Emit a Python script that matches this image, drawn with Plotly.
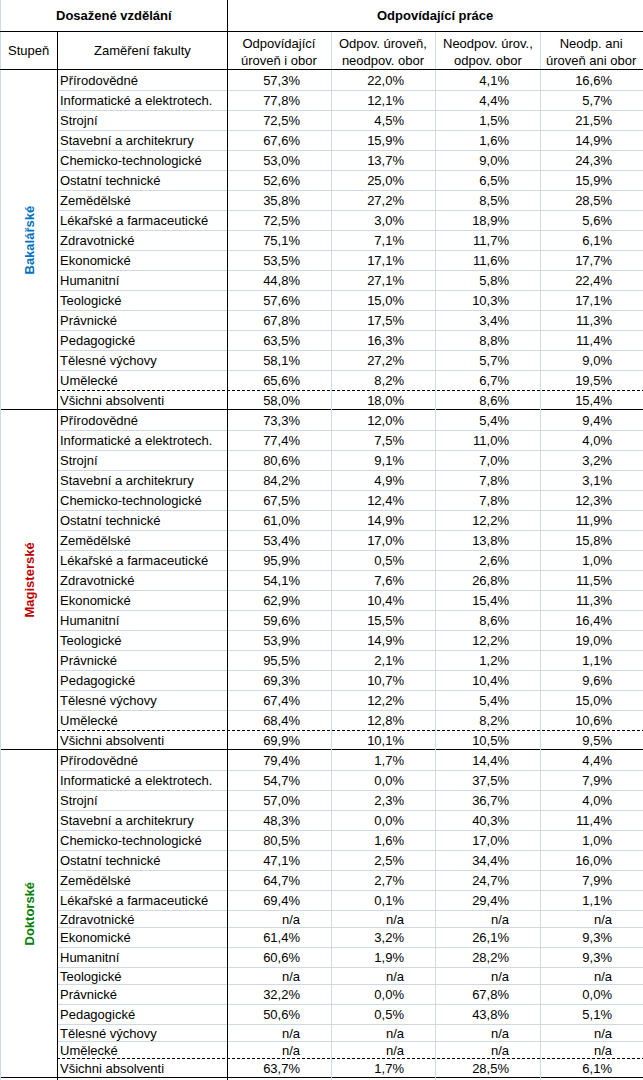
import plotly.graph_objects as go

# --- data ---------------------------------------------------------------
fields = ["Přírodovědné", "Informatické a elektrotech.", "Strojní", "Stavební a architekrury",
          "Chemicko-technologické", "Ostatní technické", "Zemědělské", "Lékařské a farmaceutické",
          "Zdravotnické", "Ekonomické", "Humanitní", "Teologické", "Právnické", "Pedagogické",
          "Tělesné výchovy", "Umělecké"]
total_label = "Všichni absolventi"
levels = ["Bakalářské", "Magisterské", "Doktorské"]
level_colors = ["#0070C0", "#C00000", "#008000"]
col_headers = ["Odpovídající<br>úroveň i obor", "Odpov. úroveň,<br>neodpov. obor",
               "Neodpov. úrov.,<br>odpov. obor", "Neodp. ani<br>úroveň ani obor"]

bak_c1 = [57.3, 77.8, 72.5, 67.6, 53.0, 52.6, 35.8, 72.5, 75.1, 53.5, 44.8, 57.6, 67.8, 63.5, 58.1, 65.6, 58.0]
bak_c2 = [22.0, 12.1, 4.5, 15.9, 13.7, 25.0, 27.2, 3.0, 7.1, 17.1, 27.1, 15.0, 17.5, 16.3, 27.2, 8.2, 18.0]
bak_c3 = [4.1, 4.4, 1.5, 1.6, 9.0, 6.5, 8.5, 18.9, 11.7, 11.6, 5.8, 10.3, 3.4, 8.8, 5.7, 6.7, 8.6]
bak_c4 = [16.6, 5.7, 21.5, 14.9, 24.3, 15.9, 28.5, 5.6, 6.1, 17.7, 22.4, 17.1, 11.3, 11.4, 9.0, 19.5, 15.4]

mag_c1 = [73.3, 77.4, 80.6, 84.2, 67.5, 61.0, 53.4, 95.9, 54.1, 62.9, 59.6, 53.9, 95.5, 69.3, 67.4, 68.4, 69.9]
mag_c2 = [12.0, 7.5, 9.1, 4.9, 12.4, 14.9, 17.0, 0.5, 7.6, 10.4, 15.5, 14.9, 2.1, 10.7, 12.2, 12.8, 10.1]
mag_c3 = [5.4, 11.0, 7.0, 7.8, 7.8, 12.2, 13.8, 2.6, 26.8, 15.4, 8.6, 12.2, 1.2, 10.4, 5.4, 8.2, 10.5]
mag_c4 = [9.4, 4.0, 3.2, 3.1, 12.3, 11.9, 15.8, 1.0, 11.5, 11.3, 16.4, 19.0, 1.1, 9.6, 15.0, 10.6, 9.5]

dok_c1 = [79.4, 54.7, 57.0, 48.3, 80.5, 47.1, 64.7, 69.4, None, 61.4, 60.6, None, 32.2, 50.6, None, None, 63.7]
dok_c2 = [1.7, 0.0, 2.3, 0.0, 1.6, 2.5, 2.7, 0.1, None, 3.2, 1.9, None, 0.0, 0.5, None, None, 1.7]
dok_c3 = [14.4, 37.5, 36.7, 40.3, 17.0, 34.4, 24.7, 29.4, None, 26.1, 28.2, None, 67.8, 43.8, None, None, 28.5]
dok_c4 = [4.4, 7.9, 4.0, 11.4, 1.0, 16.0, 7.9, 1.1, None, 9.3, 9.3, None, 0.0, 5.1, None, None, 6.1]

groups = [[bak_c1, bak_c2, bak_c3, bak_c4],
          [mag_c1, mag_c2, mag_c3, mag_c4],
          [dok_c1, dok_c2, dok_c3, dok_c4]]

# --- layout geometry ----------------------------------------------------
W, H = 643, 1080
xe = [0, 57, 227, 331, 435, 540, 643]   # column edges
H1, H2 = 31, 70                          # header row bottoms
FONT = "Liberation Sans, Arial, sans-serif"
GRID = "#D0D7E5"
DY = 2                                   # baseline nudge for cell text


def fmt(v):
    return "n/a" if v is None else f"{v:.1f}%".replace(".", ",")


fig = go.Figure()
shapes = []
annotations = []


def hline(y, x0, x1, color="black", dash="solid"):
    shapes.append(dict(type="line", xref="x", yref="y", x0=x0, x1=x1, y0=y, y1=y,
                       line=dict(color=color, width=1, dash=dash)))


def vline(x, y0, y1, color="black"):
    shapes.append(dict(type="line", xref="x", yref="y", x0=x, x1=x, y0=y0, y1=y1,
                       line=dict(color=color, width=1)))


y = H2
for g, (level, color, cols) in enumerate(zip(levels, level_colors, groups)):
    names = fields + [total_label]
    tops, mids, bots = [], [], []
    for i in range(len(names)):
        na = all(c[i] is None for c in cols)
        h = 17 if na else 20
        tops.append(y)
        mids.append(y + h / 2 + DY)
        y += h
        bots.append(y)
    # row gridlines
    for i, b in enumerate(bots[:-1]):
        if i == len(names) - 2:
            hline(b + 0.5, xe[1], W, dash="3px,2px")
        else:
            hline(b + 0.5, xe[1], W, color=GRID)
    hline(bots[-1] - 0.5, 0, W)
    # faculty names
    fig.add_trace(go.Scatter(
        x=[xe[1] + 3] * len(names), y=mids, mode="text", text=names,
        textposition="middle right", hoverinfo="skip", showlegend=False,
        textfont=dict(family=FONT, size=13, color="black")))
    # values
    for k, c in enumerate(cols):
        fig.add_trace(go.Scatter(
            x=[xe[k + 3] - 31] * len(c), y=mids, mode="text", text=[fmt(v) for v in c],
            textposition="middle left", hoverinfo="skip", showlegend=False,
            textfont=dict(family=FONT, size=13, color="black")))
    annotations.append(dict(x=xe[1] / 2, y=(tops[0] + bots[-1]) / 2, xref="x", yref="y",
                            text=f"<b>{level}</b>", textangle=-90, showarrow=False,
                            font=dict(family=FONT, size=13, color=color)))

# vertical lines
vline(0.5, 0, H, color=GRID)
for x in xe[3:6]:
    vline(x + 0.5, H1, H, color=GRID)
vline(xe[1] + 0.5, H1, H)
vline(xe[2] + 0.5, 0, H)
hline(H1 + 0.5, 0, W)
hline(H2 - 0.5, 0, W)

# headers
annotations.append(dict(x=xe[2] / 2, y=H1 / 2, text="<b>Dosažené vzdělání</b>"))
annotations.append(dict(x=(xe[2] + W) / 2, y=H1 / 2, text="<b>Odpovídající práce</b>"))
annotations.append(dict(x=xe[1] / 2, y=(H1 + H2) / 2, text="Stupeň"))
annotations.append(dict(x=(xe[1] + xe[2]) / 2, y=(H1 + H2) / 2, text="Zaměření fakulty"))
for k, t in enumerate(col_headers):
    annotations.append(dict(x=(xe[k + 2] + xe[k + 3]) / 2, y=(H1 + H2) / 2 + 1, text=t))
for a in annotations[-8:]:
    a.update(xref="x", yref="y", showarrow=False, font=dict(family=FONT, size=13, color="black"))

fig.update_layout(
    width=W, height=H, margin=dict(l=0, r=0, t=0, b=0),
    paper_bgcolor="white", plot_bgcolor="white",
    xaxis=dict(range=[0, W], visible=False, fixedrange=True),
    yaxis=dict(range=[H, 0], visible=False, fixedrange=True),
    shapes=shapes, annotations=annotations,
)

fig.write_html("out.html", config={"displayModeBar": False},
               post_script="document.body.style.margin='0';")
